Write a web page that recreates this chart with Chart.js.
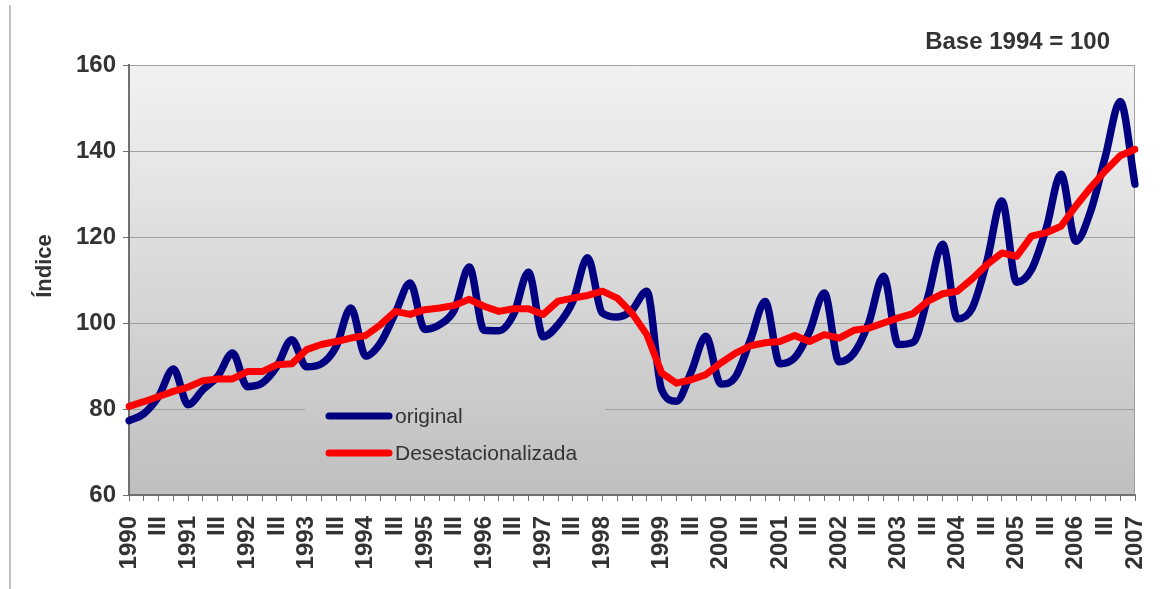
<!DOCTYPE html>
<html>
<head>
<meta charset="utf-8">
<script src="https://cdn.jsdelivr.net/npm/chart.js@4.4.1/dist/chart.umd.min.js"></script>
<style>
  html, body { margin: 0; padding: 0; background: #ffffff; }
  #wrap { width: 1173px; height: 589px; }
</style>
</head>
<body>
<div id="wrap"><canvas id="indiceChart" width="1173" height="589"></canvas></div>
<script>
// quarterly categories: year label at Q1, roman numeral for the other quarters
const years = [1990, 1991, 1992, 1993, 1994, 1995, 1996, 1997, 1998,
  1999, 2000, 2001, 2002, 2003, 2004, 2005, 2006, 2007];
const quarterNames = ["I", "II", "III", "IV"];

const original = [
  77.3, 78.9, 82.9, 89.3,   81.0, 84.5, 87.6, 93.0,
  85.2, 86.0, 89.9, 96.1,   89.8, 90.5, 94.5, 103.5,
  92.3, 95.4, 102.3, 109.3, 98.5, 99.6, 103.1, 113.0,
  98.3, 98.2, 102.0, 111.8, 96.8, 99.6, 105.0, 115.2,
  102.3, 101.4, 103.0, 107.4, 84.5, 81.8, 88.6, 96.9,
  85.8, 87.5, 96.0, 105.0,  90.5, 91.9, 98.0, 107.0,
  91.0, 93.0, 100.0, 110.9, 95.0, 95.5, 106.0, 118.3,
  101.0, 103.5, 114.5, 128.4, 109.5, 112.4, 122.0, 134.6,
  119.0, 126.0, 138.8, 151.5, 132.3
];
const desestacionalizada = [
  80.6, 81.7, 82.9, 84.1,   85.1, 86.6, 87.0, 87.0,
  88.7, 88.7, 90.3, 90.5,   93.8, 95.0, 95.7, 96.5,
  97.1, 99.6, 102.7, 102.0, 103.1, 103.5, 104.1, 105.5,
  103.9, 102.7, 103.3, 103.3, 102.0, 105.1, 105.8, 106.4,
  107.4, 105.8, 102.3, 97.3, 88.4, 86.0, 86.8, 88.0,
  90.7, 93.0, 94.7, 95.4,   95.7, 97.1, 95.7, 97.3,
  96.5, 98.3, 98.8, 100.0,  101.2, 102.2, 105.1, 106.8,
  107.4, 110.3, 113.6, 116.3, 115.5, 120.2, 121.0, 122.5,
  127.2, 131.5, 135.4, 138.9, 140.4
];

const yMin = 60;
const yMax = 160;
const yStep = 20;

const categories = [];
years.forEach(function (y) {
  quarterNames.forEach(function (q, k) {
    if (y < 2007 || k === 0) categories.push(k === 0 ? String(y) : q);
  });
});

const FONT = "'Liberation Sans', Arial, sans-serif";
const TEXT = "#333333";

function plotGradient(ctx, a) {
  const g = ctx.createLinearGradient(0, a.top, 0, a.bottom);
  g.addColorStop(0, "#f2f2f2");
  g.addColorStop(1, "#bfbfbf");
  return g;
}

// legend box sits inside the plot, hiding the gridline behind it
const legendBox = { x: 305, y: 395, w: 300, h: 75 };

const decor = {
  id: "decor",
  beforeDraw(chart) {
    const { ctx, chartArea: a } = chart;
    ctx.save();
    ctx.fillStyle = plotGradient(ctx, a);
    ctx.fillRect(a.left, a.top, a.right - a.left, a.bottom - a.top);
    ctx.restore();
  },
  beforeDatasetsDraw(chart) {
    const { ctx, chartArea: a } = chart;
    ctx.save();
    ctx.fillStyle = plotGradient(ctx, a);
    ctx.fillRect(legendBox.x, legendBox.y, legendBox.w, legendBox.h);
    ctx.strokeStyle = "#a0a0a0";
    ctx.lineWidth = 1;
    ctx.beginPath();
    ctx.moveTo(a.right - 0.5, a.top);
    ctx.lineTo(a.right - 0.5, a.bottom);
    ctx.stroke();
    ctx.restore();
  },
  afterDatasetsDraw(chart) {
    const { ctx } = chart;
    ctx.save();
    chart.data.datasets.forEach(function (d, i) {
      const y = 416 + i * 37;
      ctx.strokeStyle = d.borderColor;
      ctx.lineWidth = 7;
      ctx.lineCap = "round";
      ctx.beginPath();
      ctx.moveTo(329, y);
      ctx.lineTo(389, y);
      ctx.stroke();
      ctx.fillStyle = TEXT;
      ctx.font = "21px " + FONT;
      ctx.textAlign = "left";
      ctx.textBaseline = "middle";
      ctx.fillText(d.label, 395, y + 1);
    });
    ctx.restore();
  },
  afterDraw(chart) {
    const { ctx, chartArea: a } = chart;
    ctx.save();
    ctx.fillStyle = TEXT;
    ctx.font = "bold 24px " + FONT;
    ctx.textAlign = "right";
    ctx.textBaseline = "middle";
    ctx.fillText("Base 1994 = 100", a.right - 25, 42);

    ctx.translate(45, 266);
    ctx.rotate(-Math.PI / 2);
    ctx.textAlign = "center";
    ctx.font = "bold 22px " + FONT;
    ctx.fillText("Índice", 0, 0);
    ctx.restore();

    ctx.save();
    ctx.strokeStyle = "#c0c0c0";
    ctx.lineWidth = 2;
    ctx.beginPath();
    ctx.moveTo(10, 5);
    ctx.lineTo(10, 589);
    ctx.stroke();
    ctx.restore();
  }
};

document.addEventListener("DOMContentLoaded", function () {
  const ctx = document.getElementById("indiceChart").getContext("2d");
  new Chart(ctx, {
    type: "line",
    data: {
      labels: categories,
      datasets: [
        {
          label: "original",
          data: original,
          borderColor: "#000080",
          borderWidth: 7.5,
          cubicInterpolationMode: "monotone",
          borderCapStyle: "round",
          borderJoinStyle: "round",
          pointRadius: 0,
          order: 1,
        },
        {
          label: "Desestacionalizada",
          data: desestacionalizada,
          borderColor: "#ff0000",
          borderWidth: 7,
          tension: 0,
          borderCapStyle: "round",
          borderJoinStyle: "round",
          pointRadius: 0,
          order: 0,
        },
      ],
    },
    options: {
      responsive: false,
      animation: false,
      layout: { padding: { left: 0, right: 38, top: 65, bottom: 0 } },
      plugins: {
        legend: { display: false },
        tooltip: { enabled: false },
      },
      scales: {
        x: {
          offset: false,
          afterFit: function (s) {
            s.height = 94;
            s.paddingLeft = 0;
            s.paddingRight = 0;
          },
          grid: {
            drawOnChartArea: false,
            tickLength: 6,
            tickColor: "#707070",
          },
          border: { color: "#707070", width: 2 },
          ticks: {
            autoSkip: false,
            maxRotation: 90,
            minRotation: 90,
            padding: 15,
            color: TEXT,
            font: { family: FONT, size: 24, weight: "bold" },
            callback: function (value, index) {
              return index % 2 === 0 ? this.getLabelForValue(value) : "";
            },
          },
        },
        y: {
          min: yMin,
          max: yMax,
          afterFit: function (s) { s.width = 129; },
          grid: {
            color: "#a0a0a0",
            lineWidth: 1,
            tickLength: 6,
            tickColor: "#707070",
          },
          border: { color: "#707070", width: 2 },
          ticks: {
            stepSize: yStep,
            padding: 7,
            color: TEXT,
            font: { family: FONT, size: 24, weight: "bold" },
          },
        },
      },
    },
    plugins: [decor],
  });
});
</script>
</body>
</html>
